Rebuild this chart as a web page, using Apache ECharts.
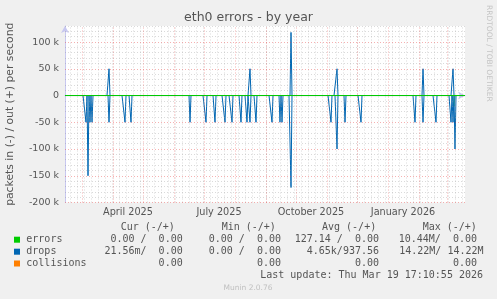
<!DOCTYPE html>
<html><head><meta charset="utf-8">
<script src="https://cdn.jsdelivr.net/npm/echarts@6/dist/echarts.min.js"></script>
<style>html,body{margin:0;padding:0;background:#f0f0f0;}#c{width:497px;height:299px;}</style>
</head><body><div id="c"></div>
<script>
// ---- data ----
const chartTitle = 'eth0 errors - by year';
const yAxisTitle = 'packets in (-) / out (+) per second';
const startDate = '2025-02-12';
const endDate = '2026-03-19';
const monthLabelDates = ['2025-04-16', '2025-07-16', '2025-10-16', '2026-01-16'];
const monthLabels = ['April 2025', 'July 2025', 'October 2025', 'January 2026'];
const yTickValues = [-200000, -150000, -100000, -50000, 0, 50000, 100000];
const yTickLabels = ['-200 k', '-150 k', '-100 k', '-50 k', '0', '50 k', '100 k'];

const dropsInDates = ['2025-03-05', '2025-03-07', '2025-03-09', '2025-03-11', '2025-03-28', '2025-04-13', '2025-04-19',
  '2025-06-17', '2025-07-03', '2025-07-12', '2025-07-22', '2025-07-29', '2025-08-07', '2025-08-13', '2025-08-16', '2025-08-22',
  '2025-09-07', '2025-09-15', '2025-09-17', '2025-09-26', '2025-11-05', '2025-11-11', '2025-11-19', '2025-12-05',
  '2026-01-28', '2026-02-05', '2026-02-18', '2026-03-05', '2026-03-07', '2026-03-09'];
const dropsInValues = [-50000, -150000, -50000, -50000, -50000, -50000, -50000,
  -50000, -50000, -50000, -50000, -50000, -50000, -50000, -50000, -50000,
  -50000, -50000, -50000, -172000, -50000, -100000, -50000, -50000,
  -50000, -50000, -50000, -50000, -50000, -100000];
const dropsOutDates = ['2025-03-28', '2025-08-16', '2025-09-26', '2025-11-11', '2026-02-05', '2026-03-07'];
const dropsOutValues = [50000, 50000, 118000, 50000, 50000, 50000];
const errorsInDates = ['2026-03-08'];
const errorsInValues = [-20000];

const legendNames = ['errors', 'drops', 'collisions'];
const legendColors = ['#00cc00', '#0066b3', '#ff8000'];
const statHeaders = ['Cur (-/+)', 'Min (-/+)', 'Avg (-/+)', 'Max (-/+)'];
const statErrors = ['0.00 /  0.00', '0.00 /  0.00', '127.14 /  0.00', '10.44M/  0.00'];
const statDrops = ['21.56m/  0.00', '0.00 /  0.00', '4.65k/937.56', '14.22M/ 14.22M'];
const statCollisions = ['0.00', '0.00', '0.00', '0.00'];
const lastUpdate = 'Last update: Thu Mar 19 17:10:55 2026';
const footer = 'Munin 2.0.76';
const sideText = 'RRDTOOL / TOBI OETIKER';

// ---- build ----
const DAY = 86400000;
const t0 = Date.parse(startDate), t1 = Date.parse(endDate);
function daily(dates, values) {
  const m = {};
  dates.forEach((d, i) => { m[Date.parse(d)] = values[i]; });
  const out = [];
  for (let t = t0; t <= t1; t += DAY) out.push([t, m[t] !== undefined ? m[t] : 0]);
  return out;
}
const weekLines = [], monthLines = [];
for (let t = t0; t <= t1; t += DAY) {
  const d = new Date(t);
  if (d.getUTCDay() === 1) weekLines.push({ xAxis: t });
  if (d.getUTCDate() === 1) monthLines.push({ xAxis: t });
}
const minorH = [], majorH = [];
for (let v = -200000; v <= 130000; v += 10000) {
  if (v % 50000 === 0) majorH.push({ yAxis: v }); else minorH.push({ yAxis: v });
}
const mono = 'DejaVu Sans Mono';
const sans = 'DejaVu Sans';
const txtColor = '#555';

const graphics = [];
graphics.push({ type: 'text', left: 'center', top: 11, style: { text: chartTitle, font: '12.5px ' + sans, fill: '#555' } });
graphics.push({ type: 'text', x: 489, y: 5, rotation: -Math.PI / 2, style: { text: sideText, font: '7.5px ' + sans, fill: '#c4c4c4', textAlign: 'left', textVerticalAlign: 'middle' } });
const hdrX = [120.7, 221.7, 322, 422.7];
statHeaders.forEach((h, i) => graphics.push({ type: 'text', x: hdrX[i], y: 227.5, style: { text: h, font: '10px ' + mono, fill: txtColor, textVerticalAlign: 'middle' } }));
const rowY = [239.7, 251.7, 263.5];
const colR = [182.7, 281, 379, 477];
const rows = [statErrors, statDrops, statCollisions];
legendNames.forEach((n, r) => {
  graphics.push({ type: 'rect', shape: { x: 14, y: rowY[r] - 3, width: 6, height: 6 }, style: { fill: legendColors[r] } });
  graphics.push({ type: 'text', x: 26.3, y: rowY[r], style: { text: n, font: '10px ' + mono, fill: txtColor, textVerticalAlign: 'middle' } });
  rows[r].forEach((s, c) => {
    const right = (r === 1 && c === 3) ? 483.5 : colR[c];
    graphics.push({ type: 'text', x: right, y: rowY[r], style: { text: s, font: '10px ' + mono, fill: txtColor, textAlign: 'right', textVerticalAlign: 'middle' } });
  });
});
graphics.push({ type: 'text', x: 483, y: 275.7, style: { text: lastUpdate, font: '10px ' + mono, fill: txtColor, textAlign: 'right', textVerticalAlign: 'middle' } });
graphics.push({ type: 'text', x: 248, y: 288.5, style: { text: footer, font: '7.5px ' + sans, fill: '#c0c0c0', textAlign: 'center', textVerticalAlign: 'middle' } });

function gridSeries(name, data, color) {
  return {
    name, type: 'line', data: [], z: 1, silent: true,
    markLine: { silent: true, symbol: ['none', 'none'], label: { show: false }, animation: false,
      lineStyle: { color, width: 1, type: [1, 2] }, emphasis: { disabled: true }, data }
  };
}
const monthLabelVals = monthLabelDates.map(d => Date.parse(d));

const option = {
  backgroundColor: '#f0f0f0',
  animation: false,
  grid: { left: 65, right: 32, top: 26, bottom: 96.5, show: true, backgroundColor: '#ffffff', borderWidth: 0, outerBoundsMode: 'none', containLabel: false },
  xAxis: {
    type: 'value', min: t0, max: t1,
    axisLine: { show: true, lineStyle: { color: '#c8c8f0', width: 1 }, symbol: ['none', 'arrow'], symbolSize: [6, 7] },
    axisTick: { show: false },
    splitLine: { show: false },
    axisLabel: {
      customValues: monthLabelVals, color: txtColor, fontFamily: sans, fontSize: 9.7, margin: 5,
      formatter: v => { const i = monthLabelVals.indexOf(v); return i >= 0 ? monthLabels[i] : ''; }
    }
  },
  yAxis: {
    type: 'value', min: -200000, max: 130000, interval: 50000,
    name: yAxisTitle, nameLocation: 'middle', nameGap: 49, nameRotate: 90,
    nameTextStyle: { color: txtColor, fontFamily: sans, fontSize: 10.8 },
    axisLine: { show: true, lineStyle: { color: '#c8c8f0', width: 1 }, symbol: ['none', 'arrow'], symbolSize: [6, 7] },
    axisTick: { show: false },
    splitLine: { show: false },
    axisLabel: {
      color: txtColor, fontFamily: sans, fontSize: 9.5, margin: 6,
      formatter: v => { const i = yTickValues.indexOf(v); return i >= 0 ? yTickLabels[i] : ''; }
    }
  },
  graphic: graphics,
  series: [
    gridSeries('minorV', weekLines, 'rgba(150,150,150,0.35)'),
    gridSeries('minorH', minorH, 'rgba(150,150,150,0.35)'),
    gridSeries('majorV', monthLines, 'rgba(230,60,60,0.4)'),
    gridSeries('majorH', majorH, 'rgba(230,60,60,0.4)'),
    { name: 'collisions', type: 'line', data: daily([], []), showSymbol: false, z: 2, lineStyle: { color: legendColors[2], width: 1 } },
    { name: 'errors', type: 'line', data: daily(errorsInDates, errorsInValues), showSymbol: false, z: 3, lineStyle: { color: legendColors[0], width: 1, opacity: 0.6 } },
    { name: 'drops in', type: 'line', data: daily(dropsInDates, dropsInValues), showSymbol: false, z: 4, lineStyle: { color: legendColors[1], width: 1 } },
    { name: 'drops out', type: 'line', data: daily(dropsOutDates, dropsOutValues), showSymbol: false, z: 4, lineStyle: { color: legendColors[1], width: 1 } },
    { name: 'errors zero', type: 'line', data: daily([], []), showSymbol: false, z: 5, lineStyle: { color: legendColors[0], width: 1 } },
    {
      name: 'zero', type: 'line', data: [], z: 6, silent: true,
      markLine: { silent: true, symbol: ['none', 'none'], label: { show: false }, animation: false,
        lineStyle: { color: '#220000', width: 1, type: [4, 14] }, data: [{ yAxis: 0 }] }
    }
  ]
};
const chart = echarts.init(document.getElementById('c'), null, { renderer: 'canvas' });
chart.setOption(option);
</script>
</body></html>
